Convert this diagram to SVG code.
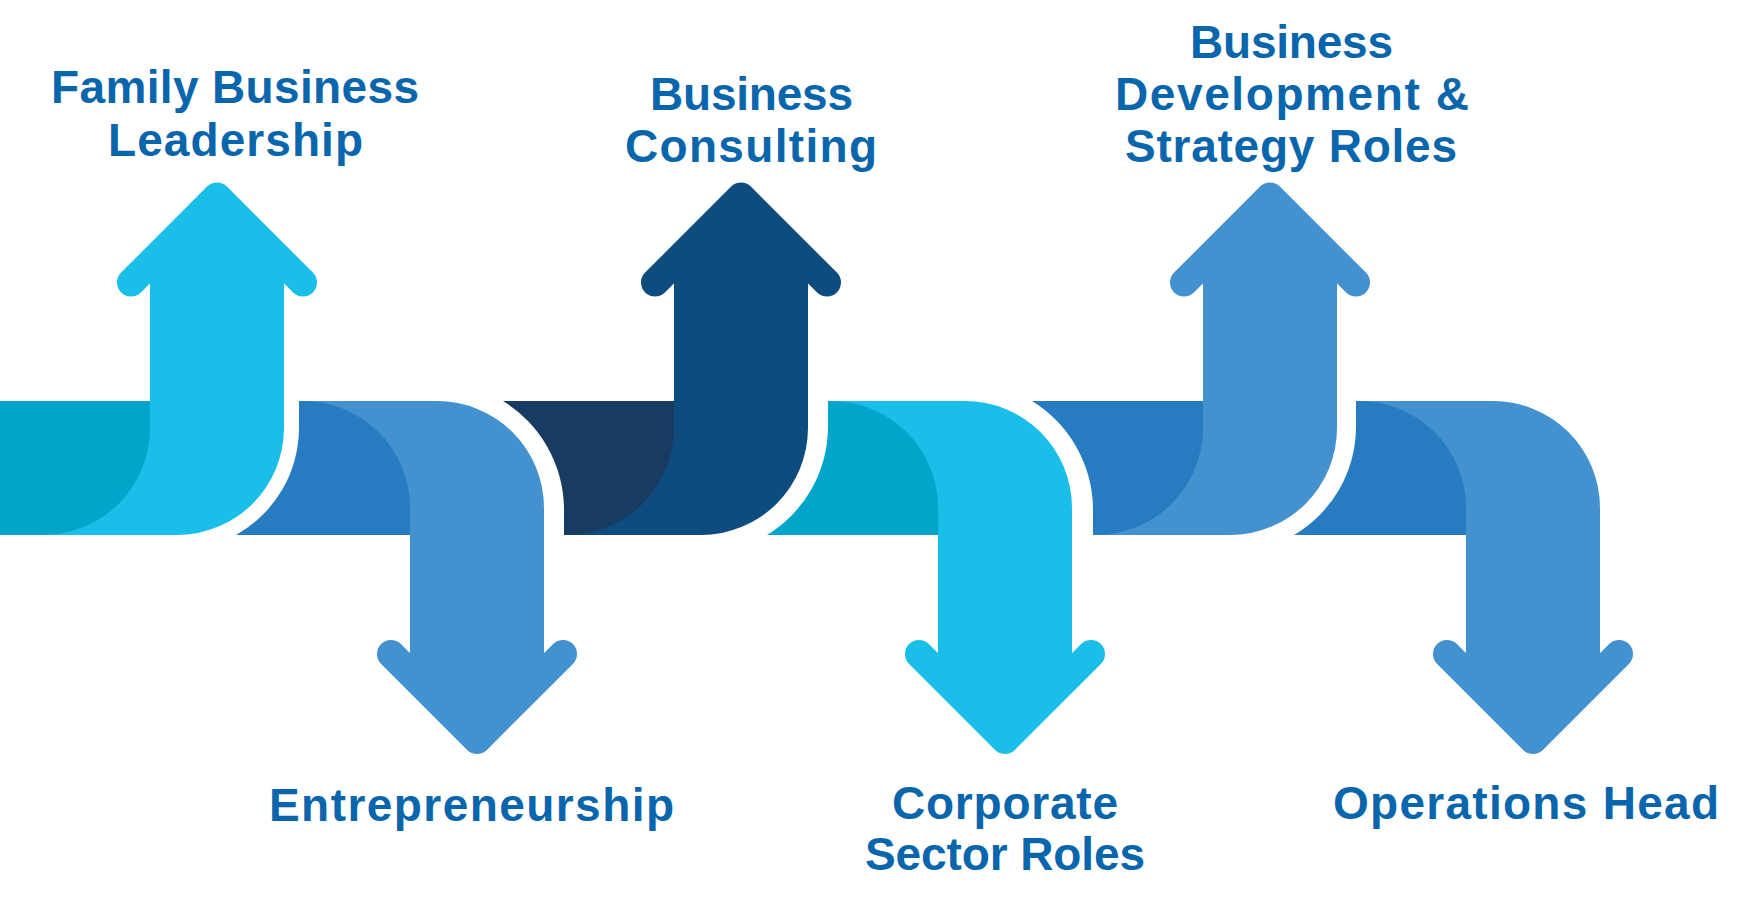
<svg xmlns="http://www.w3.org/2000/svg" xmlns:xlink="http://www.w3.org/1999/xlink" width="1749" height="902" viewBox="0 0 1749 902">
  <style>
    .lbl { font-family: "Liberation Sans", Arial, sans-serif; font-weight: 700; font-size: 46px; fill: #0A66AC; text-anchor: middle; }
    .chev { fill: none; stroke: currentColor; stroke-width: 28; stroke-linecap: round; stroke-linejoin: round; }
    .hfill { fill: currentColor; stroke: none; }
    .teal { fill: #00A5C9; }
    .cyan { fill: #19BFE8; color: #19BFE8; }
    .mid { fill: #277CC1; }
    .lblue { fill: #4391CF; color: #4391CF; }
    .navyband { fill: #173B61; }
    .navy { fill: #0E4C80; color: #0E4C80; }
  </style>
  <defs>
    <path id="upBody" d="M0,280 L0,428 A107,107 0 0 1 -107,535 L27,535 A107,107 0 0 0 134,428 L134,280 Z"/>
    <path id="downBody" d="M-107,401 L27,401 A107,107 0 0 1 134,508 L134,657 L0,657 L0,508 A107,107 0 0 0 -107,401 Z"/>
    <g id="upHead">
      <polygon class="hfill" points="0,196.5 -86,282.5 86,282.5"/>
      <polyline class="chev" points="-86,282.5 0,196.5 86,282.5"/>
    </g>
    <g id="downHead">
      <polygon class="hfill" points="0,740 -86,654 86,654"/>
      <polyline class="chev" points="-86,654 0,740 86,654"/>
    </g>
  </defs>
  <rect width="1749" height="902" fill="#ffffff"/>

  <g id="node-family-business">
    <rect class="teal" x="0" y="401" width="165" height="134"/>
    <use xlink:href="#upBody" href="#upBody" class="cyan" transform="translate(150,0)"/>
    <use xlink:href="#upHead" href="#upHead" class="cyan" transform="translate(217,0)"/>
    <text class="lbl" x="235" y="103" textLength="368">Family Business</text>
    <text class="lbl" x="235.5" y="156" textLength="255">Leadership</text>
  </g>

  <g id="node-entrepreneurship">
    <path class="mid" d="M299,401 L430,401 L430,535 L236,535 A123,123 0 0 0 299,428 Z"/>
    <use xlink:href="#downBody" href="#downBody" class="lblue" transform="translate(410,0)"/>
    <use xlink:href="#downHead" href="#downHead" class="lblue" transform="translate(477,0)"/>
    <text class="lbl" x="471.5" y="821" textLength="405">Entrepreneurship</text>
  </g>

  <g id="node-business-consulting">
    <path class="navyband" d="M503,401 A128,128 0 0 1 564,508 L564,535 L690,535 L690,401 Z"/>
    <use xlink:href="#upBody" href="#upBody" class="navy" transform="translate(674,0)"/>
    <use xlink:href="#upHead" href="#upHead" class="navy" transform="translate(741,0)"/>
    <text class="lbl" x="751.5" y="110" textLength="203">Business</text>
    <text class="lbl" x="751" y="162" textLength="252">Consulting</text>
  </g>

  <g id="node-corporate-sector">
    <path class="teal" d="M828,401 L958,401 L958,535 L767,535 A127,127 0 0 0 828,428 Z"/>
    <use xlink:href="#downBody" href="#downBody" class="cyan" transform="translate(938,0)"/>
    <use xlink:href="#downHead" href="#downHead" class="cyan" transform="translate(1005,0)"/>
    <text class="lbl" x="1005" y="819" textLength="226">Corporate</text>
    <text class="lbl" x="1005" y="870" textLength="280">Sector Roles</text>
  </g>

  <g id="node-business-development">
    <path class="mid" d="M1032,401 A128,128 0 0 1 1093,508 L1093,535 L1220,535 L1220,401 Z"/>
    <use xlink:href="#upBody" href="#upBody" class="lblue" transform="translate(1203,0)"/>
    <use xlink:href="#upHead" href="#upHead" class="lblue" transform="translate(1270,0)"/>
    <text class="lbl" x="1291.5" y="58" textLength="203">Business</text>
    <text class="lbl" x="1292" y="110" textLength="354">Development &amp;</text>
    <text class="lbl" x="1291" y="162" textLength="332">Strategy Roles</text>
  </g>

  <g id="node-operations-head">
    <path class="mid" d="M1356,401 L1486,401 L1486,535 L1294,535 A126,126 0 0 0 1356,428 Z"/>
    <use xlink:href="#downBody" href="#downBody" class="lblue" transform="translate(1466,0)"/>
    <use xlink:href="#downHead" href="#downHead" class="lblue" transform="translate(1533,0)"/>
    <text class="lbl" x="1526" y="819" textLength="386">Operations Head</text>
  </g>
</svg>
